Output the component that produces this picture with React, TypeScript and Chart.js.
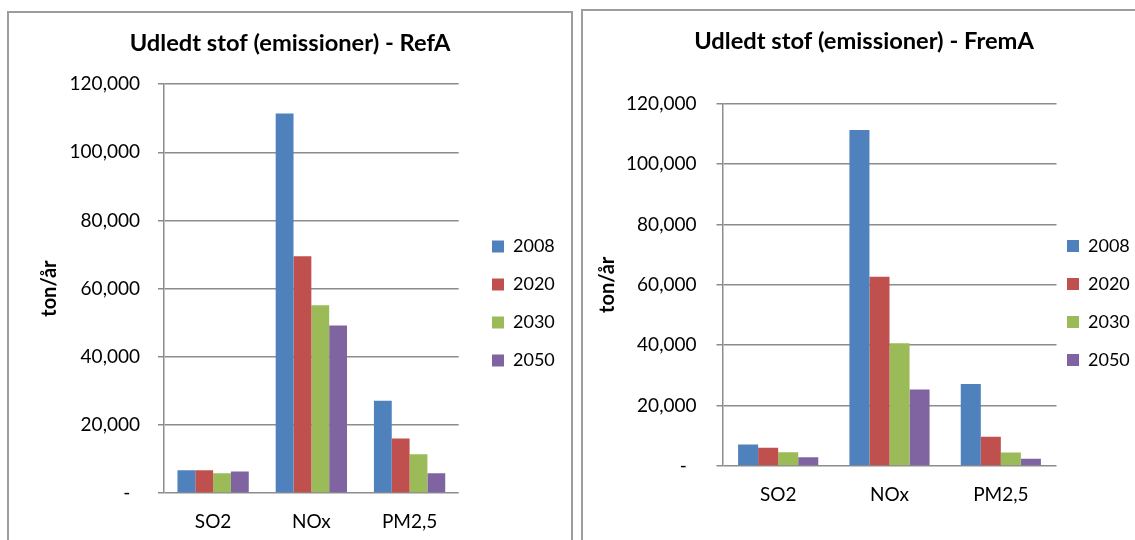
import React, { useEffect, useRef } from 'react';
import { Chart, registerables } from 'chart.js';

Chart.register(...registerables);

// ---------- data ----------
const CATEGORIES = ['SO2', 'NOx', 'PM2,5'];
const SERIES_NAMES = ['2008', '2020', '2030', '2050'];
const SERIES_COLORS = ['#4F81BD', '#C0504D', '#9BBB59', '#8064A2'];
const Y_MIN = 0;
const Y_MAX = 120000;
const Y_STEP = 20000;

const REFA_2008 = [6700, 111400, 27100];
const REFA_2020 = [6700, 69500, 16000];
const REFA_2030 = [5800, 55100, 11400];
const REFA_2050 = [6300, 49200, 5800];

const FREMA_2008 = [7100, 111300, 27100];
const FREMA_2020 = [6000, 62700, 9700];
const FREMA_2030 = [4500, 40600, 4450];
const FREMA_2050 = [2900, 25300, 2400];

const TITLE_REFA = 'Udledt stof (emissioner) - RefA';
const TITLE_FREMA = 'Udledt stof (emissioner) - FremA';
const Y_TITLE = 'ton/år';
const ZERO_LABEL = '-  ';

// ---------- style ----------
const FONT = 'Lato';
const GRID = '#8c8c8c';
const BOX_BORDER = '#9d9d9d';
const TITLE_SIZE = 23.7;
const TICK_SIZE = 19;
const LEGEND_SIZE = 18;
const AXIS_TITLE_SIZE = 20;

type PanelCfg = {
  left: number; top: number; boxW: number; boxH: number;
  canvasW: number; canvasH: number;
  pl: number; pr: number;
  titlePadTop: number; titlePadBottom: number;
  yAxisW: number; yTickPad: number; yTitlePad: number;
  legendMaxW: number; padW: number;
  xAxisH: number; xTickPad: number;
  catPct: number;
};

const LEFT_CFG: PanelCfg = {
  left: 7, top: 11, boxW: 562, boxH: 593,
  canvasW: 562, canvasH: 593,
  pl: 12, pr: 12,
  titlePadTop: 16.3, titlePadBottom: 26.5,
  yAxisW: 143, yTickPad: 18, yTitlePad: 17,
  legendMaxW: 75, padW: 25.3,
  xAxisH: 113, xTickPad: 17,
  catPct: 0.726,
};

const RIGHT_CFG: PanelCfg = {
  left: 581, top: 9, boxW: 600, boxH: 596,
  canvasW: 600, canvasH: 596,
  pl: 10, pr: 48,
  titlePadTop: 16.3, titlePadBottom: 48,
  yAxisW: 129.5, yTickPad: 20, yTitlePad: 3,
  legendMaxW: 76, padW: 2.5,
  xAxisH: 141.1, xTickPad: 18,
  catPct: 0.72,
};

function ChartPanel({ title, series, cfg }: { title: string; series: number[][]; cfg: PanelCfg }) {
  const ref = useRef<HTMLCanvasElement | null>(null);

  useEffect(() => {
    const canvas = ref.current;
    if (!canvas) return;
    const chart = new Chart(canvas, {
      type: 'bar',
      data: {
        labels: CATEGORIES,
        datasets: series.map((vals, i) => ({
          label: SERIES_NAMES[i],
          data: vals,
          backgroundColor: SERIES_COLORS[i],
          borderWidth: 0,
          barPercentage: 1,
          categoryPercentage: cfg.catPct,
          xAxisID: 'x',
          yAxisID: 'y',
        })),
      },
      options: {
        responsive: false,
        animation: false,
        devicePixelRatio: 1,
        layout: { padding: { left: cfg.pl, right: cfg.pr, top: 0, bottom: 0 } },
        plugins: {
          title: {
            display: true,
            text: title,
            color: '#000',
            font: { family: FONT, size: TITLE_SIZE, weight: 'bold', lineHeight: 1.2 },
            padding: { top: cfg.titlePadTop, bottom: cfg.titlePadBottom },
          },
          legend: {
            position: 'right',
            align: 'center',
            maxWidth: cfg.legendMaxW,
            labels: {
              boxWidth: 12,
              boxHeight: 12,
              padding: 8,
              color: '#000',
              font: { family: FONT, size: LEGEND_SIZE, lineHeight: 30 / LEGEND_SIZE },
              generateLabels: (c: any) =>
                Chart.defaults.plugins.legend.labels
                  .generateLabels(c)
                  .map((it: any) => ({ ...it, text: [it.text] })),
            },
          },
          tooltip: { enabled: false },
        },
        scales: {
          x: {
            grid: { display: false, drawTicks: false },
            border: { display: false },
            ticks: { color: '#000', font: { family: FONT, size: TICK_SIZE }, padding: cfg.xTickPad },
            afterFit: (s: any) => { s.height = cfg.xAxisH; },
          },
          y: {
            type: 'linear',
            position: 'left',
            min: Y_MIN,
            max: Y_MAX,
            ticks: {
              stepSize: Y_STEP,
              color: '#000',
              font: { family: FONT, size: TICK_SIZE },
              padding: cfg.yTickPad,
              callback: (v: any) => (Number(v) === 0 ? ZERO_LABEL : Number(v).toLocaleString('en-US')),
            },
            grid: { color: GRID, lineWidth: 1.5, tickLength: 6, drawTicks: true },
            border: { display: true, color: GRID, width: 1.5 },
            title: {
              display: true,
              text: Y_TITLE,
              color: '#000',
              font: { family: FONT, size: AXIS_TITLE_SIZE, weight: 'bold', lineHeight: 1.2 },
              padding: { top: cfg.yTitlePad, bottom: 0 },
            },
            afterFit: (s: any) => { s.width = cfg.yAxisW; },
          },
          pad: {
            type: 'linear',
            position: 'right',
            display: true,
            grid: { display: false, drawTicks: false },
            border: { display: false },
            ticks: { display: false },
            afterFit: (s: any) => { s.width = cfg.padW; },
          },
        },
      } as any,
    });
    return () => chart.destroy();
  }, [title, series, cfg]);

  return (
    <div
      style={{
        position: 'absolute',
        left: cfg.left,
        top: cfg.top,
        width: cfg.boxW,
        height: cfg.boxH,
        border: `2px solid ${BOX_BORDER}`,
        background: '#fff',
      }}
    >
      <canvas ref={ref} width={cfg.canvasW} height={cfg.canvasH} style={{ display: 'block' }} />
    </div>
  );
}

const REFA_SERIES = [REFA_2008, REFA_2020, REFA_2030, REFA_2050];
const FREMA_SERIES = [FREMA_2008, FREMA_2020, FREMA_2030, FREMA_2050];

export default function App() {
  return (
    <div
      style={{
        position: 'fixed',
        left: 0,
        top: 0,
        width: 1135,
        height: 540,
        overflow: 'hidden',
        background: '#fff',
      }}
    >
      <ChartPanel title={TITLE_REFA} series={REFA_SERIES} cfg={LEFT_CFG} />
      <ChartPanel title={TITLE_FREMA} series={FREMA_SERIES} cfg={RIGHT_CFG} />
    </div>
  );
}
